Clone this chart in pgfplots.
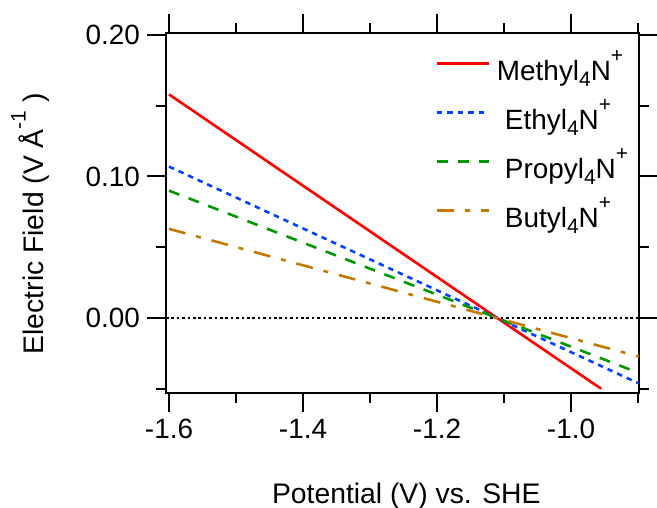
\documentclass[border=0pt]{standalone}
\usepackage{pgfplots}
\pgfplotsset{compat=1.18}
\usepackage{fontspec}
\setmainfont{Liberation Sans}
\definecolor{cMe}{RGB}{255,0,0}
\definecolor{cEt}{RGB}{0,68,255}
\definecolor{cPr}{RGB}{0,153,0}
\definecolor{cBu}{RGB}{196,122,0}
\newcommand{\sups}[1]{\raisebox{8.75bp}{\fontsize{10.5}{12}\selectfont #1}}
\newcommand{\subs}[1]{\raisebox{-3bp}{\fontsize{10.5}{12}\selectfont #1}}
\begin{document}
\begin{tikzpicture}
\begin{axis}[
  scale only axis,
  width=236.5bp, height=180bp,
  xmin=-1.6045, xmax=-0.8985,
  ymin=-0.053, ymax=0.2014,
  axis line style={line width=1bp},
  tick style={black, line width=1bp},
  tick align=outside,
  major tick length=9.5bp,
  minor tick length=5bp,
  xtick={-1.6,-1.4,-1.2,-1.0},
  xticklabels={-1.6,-1.4,-1.2,-1.0},
  minor xtick={-1.5,-1.3,-1.1,-0.9},
  ytick={0,0.1,0.2},
  yticklabels={0.00,0.10,0.20},
  minor ytick={-0.05,0.05,0.15},
  ticklabel style={font=\fontsize{14}{16}\selectfont},
  label style={font=\fontsize{14.2}{17}\selectfont},
  xlabel={Potential (V) vs. SHE},
  ylabel={Electric Field (V Å\sups{-1} )},
  xlabel style={at={(axis description cs:0.508,-0.3056)}, anchor=base},
  ylabel style={at={(axis description cs:-0.260,0.47)}, anchor=base, rotate=0},
  legend cell align=left,
  legend image code/.code={\path (0bp,0bp); \draw[#1] (0bp,5bp) -- (26bp,5bp);},
  legend style={at={(axis description cs:0.5687,0.925)}, anchor=north west,
    draw=none, fill=none, inner sep=0pt, row sep=11.5bp, column sep=7.5bp,
    font=\fontsize{14}{16}\selectfont,
    nodes={inner sep=0pt, text height=10bp, text depth=3bp}},
]
\addplot[black, line width=1.35bp, dash pattern=on 1.35bp off 1.35bp, forget plot] coordinates {(-1.6045,0) (-0.8985,0)};
\addplot[cMe, line width=1.3bp] coordinates {(-1.6,0.158) (-0.955,-0.0500)};
\addplot[cEt, line width=1.3bp, dash pattern=on 2.75bp off 2.5bp] coordinates {(-1.6,0.107) (-0.8985,-0.0463)};
\addplot[cPr, line width=1.3bp, dash pattern=on 5.5bp off 5bp] coordinates {(-1.6,0.090) (-0.8985,-0.0389)};
\addplot[cBu, line width=1.3bp, dash pattern=on 8.5bp off 5.5bp on 2.5bp off 5.5bp] coordinates {(-1.6,0.063) (-0.8985,-0.0273)};
\legend{\hspace*{-4bp}Methyl\subs{4}N\sups{+}, Ethyl\subs{4}N\sups{+}, Propyl\subs{4}N\sups{+}, Butyl\subs{4}N\sups{+}}
\end{axis}
\pgfresetboundingbox
\path[use as bounding box] ([shift={(-83bp,-57.5bp)}]current axis.south west) rectangle ([shift={(9bp,16.5bp)}]current axis.north east);
\end{tikzpicture}
\end{document}
